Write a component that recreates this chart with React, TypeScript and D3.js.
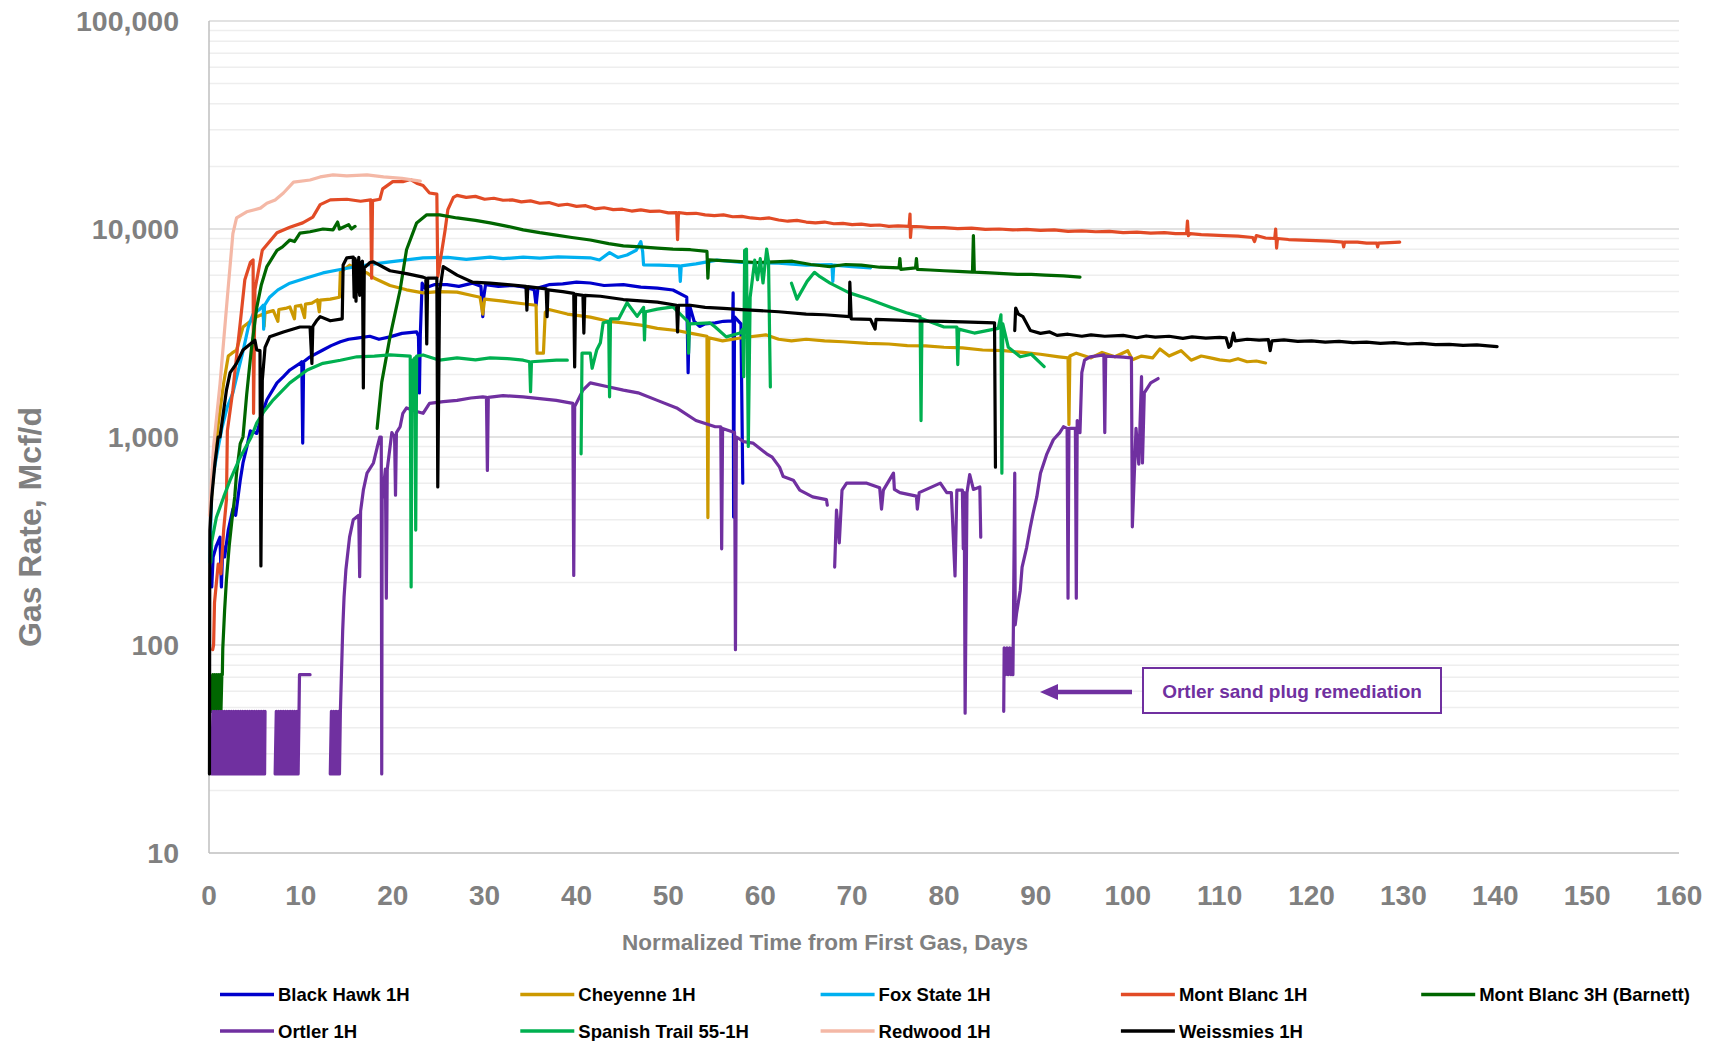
import React, { useEffect } from "react";
import * as d3 from "d3";

type Pt = [number, number | null];

const W = 1723;
const H = 1041;
const FONT = "'Liberation Sans', Arial, sans-serif";
const AXIS_GRAY = "#808080";

const xTickValues = [0, 10, 20, 30, 40, 50, 60, 70, 80, 90, 100, 110, 120, 130, 140, 150, 160];
const yTickValues = [10, 100, 1000, 10000, 100000];

// Daily gas rates, [day, Mcf/d]; null marks a break in the record
const blackHawk: Pt[] = [
  [0.3, 190], [0.45, 265], [0.8, 300], [1.2, 330], [1.35, 190], [1.5, 300], [1.7, 265], [2.1, 357],
  [2.6, 450], [2.9, 420], [3.4, 620], [3.7, 750], [4.1, 890], [4.5, 1070], [5.2, 1040], [5.8, 1300],
  [6.3, 1510], [7.4, 1820], [8.1, 1950], [8.8, 2100], [9.9, 2260], [10.1, 2300], [10.2, 935], [10.3, 2300],
  [11, 2430], [12.4, 2620], [13.3, 2750], [14.3, 2870], [15.2, 2950], [16.1, 2990], [17.5, 3050], [18.5, 2950],
  [19.7, 3030], [21, 3150], [22.6, 3200], [22.8, 3050], [22.9, 1630], [23.0, 3100], [23.2, 5490], [23.5, 5200],
  [24.5, 5400], [25.9, 5400], [27.2, 5300], [28.7, 5490], [29.6, 5300], [29.8, 3790], [29.9, 4700], [30.1, 5400],
  [31.5, 5300], [33, 5350], [34.2, 5270], [35.4, 5100], [35.6, 4300], [35.8, 5200], [37, 5400], [38.5, 5450],
  [40, 5550], [41.5, 5500], [43, 5350], [45.1, 5400], [47, 5250], [48.8, 5200], [50.5, 5090], [52.0, 4700],
  [52.15, 2040], [52.3, 4300], [52.8, 3600], [53.4, 3400], [54.0, 3500], [55.1, 3540], [56, 3600], [57.0, 3620],
  [57.05, 4930], [57.1, 412], [57.2, 3780], [57.9, 3500], [58.1, 600],
];

const cheyenne: Pt[] = [
  [0.2, 450], [0.5, 700], [1.0, 1150], [1.6, 1820], [2.1, 2450], [2.5, 2530], [3.0, 2620], [3.7, 3380],
  [4.5, 3600], [5.2, 3790], [5.9, 3900], [6.0, 3400], [6.1, 3950], [7.0, 4050], [7.5, 3600], [7.6, 4100],
  [8.3, 4150], [8.8, 4220], [9.3, 3700], [9.4, 4250], [10.0, 4300], [10.4, 3750], [10.5, 4350], [11.2, 4400],
  [11.8, 4570], [12.0, 4000], [12.1, 4550], [13.2, 4600], [14.2, 4700], [14.3, 6200], [15.3, 6700], [16.2, 6400],
  [17.2, 6150], [18.0, 5800], [19.7, 5350], [21.5, 5100], [23.3, 4930], [25, 5000], [27, 4970], [28.5, 4800],
  [29.5, 4700], [29.8, 3900], [30.0, 4600], [32, 4500], [34.2, 4370], [35.6, 4300], [35.7, 2530], [36.4, 2530],
  [36.6, 3980], [37, 4100], [39, 3900], [41.5, 3770], [43.5, 3600], [45.1, 3540], [47, 3450], [48.8, 3330],
  [50.9, 3250], [52.5, 3150], [54.2, 3050], [54.3, 410], [54.4, 3000], [55.9, 2900], [58, 3000], [60.6, 3100],
  [62, 2950], [63.4, 2900], [65, 2950], [67, 2900], [69, 2870], [71.7, 2820], [74, 2800], [76, 2750],
  [78, 2740], [80, 2700], [82, 2680], [84.2, 2620], [86.5, 2600], [88.6, 2550], [90.5, 2500], [92.5, 2430],
  [93.5, 2400], [93.6, 1150], [93.7, 2450], [94.4, 2530], [96, 2400], [97.2, 2550], [98.6, 2430],
  [100.0, 2600], [100.5, 2350], [101.5, 2450], [102.7, 2400], [103.5, 2650], [104.5, 2450], [105.8, 2600],
  [106.9, 2340], [108, 2450], [109, 2400], [110, 2350], [111.1, 2320], [112, 2380], [113, 2300], [114, 2320],
  [115, 2270],
];

const foxState: Pt[] = [
  [0.1, 250], [0.3, 600], [0.8, 800], [1.4, 1100], [2.0, 1400], [2.6, 1630], [3.2, 2100], [3.7, 2580],
  [4.3, 3410], [4.8, 3900], [5.5, 4100], [5.9, 4300], [5.95, 3300], [6.05, 4300], [6.6, 4700], [7.5, 5100],
  [8.8, 5490], [10.5, 5800], [12.4, 6150], [14, 6350], [16.1, 6600], [18, 6800], [19.7, 6950], [21.5, 7100],
  [23.3, 7270], [26, 7300], [28, 7150], [30.6, 7330], [32, 7200], [34.2, 7330], [36, 7250], [38, 7350],
  [41.5, 7270], [42.5, 7100], [43.6, 7700], [44.5, 7300], [45.5, 7500], [46.5, 7900], [47.0, 8700], [47.2, 7800],
  [47.3, 6720], [49, 6700], [51.2, 6650], [51.3, 5600], [51.4, 6650], [53, 6800], [55.3, 7080], [58, 6900],
  [62, 6850], [65, 6700], [67.8, 6750], [67.9, 5600], [68.0, 6700], [70, 6600], [72, 6500],
];

const montBlanc1H: Pt[] = [
  [0.4, 95], [0.5, 100], [0.6, 160], [1.0, 245], [1.3, 220], [1.6, 360], [1.9, 500], [2.0, 1070],
  [2.6, 1680], [3.4, 3540], [3.9, 5700], [4.5, 6900], [4.8, 7100], [4.85, 1300], [5.0, 5100], [5.8, 7900],
  [7.4, 9600], [8.8, 10200], [10.2, 10700], [11.3, 11400], [12.1, 13100], [13.2, 13800], [15.0, 13900],
  [16.5, 13600], [17.6, 13800], [17.7, 5800], [17.8, 13700], [18.6, 13900], [18.9, 15600], [20, 16900],
  [21.1, 16900], [21.9, 17300], [22.6, 16600], [23.3, 16200], [24.0, 14900], [24.8, 14700], [24.9, 5900],
  [25.7, 9900], [26.0, 12400], [26.6, 14200], [27, 14500], [28, 14200], [29, 14350], [30, 13900],
  [31, 14050], [32, 13750], [33, 13800], [34, 13500], [35, 13650], [36, 13300], [37, 13400], [38, 13000],
  [39, 13150], [40, 12850], [41, 12950], [42, 12500], [43, 12650], [44, 12400], [45, 12450], [46, 12200],
  [47, 12350], [48, 12150], [49, 12200], [50, 11950], [50.9, 12000], [51, 8900], [51.1, 12000], [52, 11850],
  [53, 11900], [54, 11700], [55, 11600], [56, 11700], [57, 11450], [58, 11500], [59, 11300], [60, 11200],
  [61, 11300], [62, 11050], [63, 10900], [64, 11000], [65, 10800], [66, 10700], [67, 10800], [68, 10600],
  [69, 10650], [70, 10500], [71, 10550], [72, 10400], [73, 10450], [74, 10300], [75, 10350], [76.2, 10300],
  [76.3, 11800], [76.35, 9100], [76.45, 10300], [77.5, 10250], [78.5, 10150], [80, 10150], [81.5, 10050],
  [83, 10100], [84.5, 9950], [86, 10000], [87.5, 9900], [89, 9950], [90.5, 9850], [92, 9900], [93.5, 9750],
  [95, 9800], [96.5, 9700], [98, 9750], [99.5, 9600], [101, 9650], [102.5, 9550], [104, 9600], [105.2, 9500],
  [106.4, 9500], [106.5, 10900], [106.6, 9300], [106.8, 9500], [108, 9400], [109.3, 9350], [110.5, 9300],
  [112, 9250], [113.6, 9100], [113.8, 8700], [114.0, 9300], [115, 9050], [116, 9000], [116.1, 10000],
  [116.2, 8100], [116.3, 9000], [117.5, 8900], [119, 8850], [120.5, 8800], [122, 8750], [123.4, 8650],
  [123.5, 8200], [123.6, 8650], [125, 8650], [126, 8550], [127.1, 8550], [127.2, 8200], [127.3, 8550],
  [128.5, 8600], [129.6, 8650],
];

const montBlanc3H: Pt[] = [
  [0.3, 48], [0.4, 72], [0.5, 48], [0.6, 72], [0.7, 48], [0.8, 72], [0.9, 48], [1.0, 72], [1.1, 48],
  [1.2, 72], [1.3, 48], [1.4, 72], [1.45, 72],
  [1.5, 96], [1.7, 147], [1.9, 206], [2.2, 300], [2.5, 400], [2.8, 515], [3.0, 670], [3.4, 930], [3.7, 1000],
  [4.1, 1600], [4.6, 2620], [5.2, 4200], [5.7, 5400], [6.3, 6600], [7.4, 7900], [8.0, 8200], [8.8, 8850],
  [9.3, 8700], [9.9, 9560], [11, 9700], [12.4, 10000], [13.5, 9900], [14.0, 10800], [14.2, 10000],
  [14.6, 10200], [15.2, 10500], [15.5, 10000], [15.9, 10300],
  [16.0, null],
  [18.3, 1100], [18.8, 1830], [19.7, 3030], [20.8, 5090], [21.5, 7950], [22.6, 10700], [23.7, 11700],
  [25.1, 11700], [27, 11300], [29, 11000], [30.6, 10700], [32.5, 10300], [34.2, 9900], [36, 9600],
  [37.8, 9350], [39.5, 9100], [41.5, 8850], [43.5, 8500], [45.1, 8300], [47, 8200], [48.8, 8100],
  [50.5, 8000], [52.4, 7950], [54.2, 7800], [54.3, 5800], [54.4, 7100], [57, 7000], [59.6, 6900],
  [61.5, 6950], [63.5, 7000], [65.5, 6750], [67.6, 6600], [69.3, 6750], [71, 6700], [73, 6550], [75.1, 6500],
  [75.2, 7200], [75.3, 6400], [76.9, 6500], [77.0, 7200], [77.1, 6400], [78.5, 6350], [80, 6300],
  [81.5, 6250], [83.1, 6200], [83.2, 9300], [83.3, 6200], [85, 6150], [86.5, 6100], [88, 6050],
  [89.5, 6050], [91, 6000], [93, 5950], [94.8, 5870],
];

const ortler: Pt[] = [
  [0.3, 24], [0.425, 48], [0.55, 24], [0.675, 48], [0.8, 24], [0.925, 48], [1.05, 24], [1.175, 48],
  [1.3, 24], [1.425, 48], [1.55, 24], [1.675, 48], [1.8, 24], [1.925, 48], [2.05, 24], [2.175, 48],
  [2.3, 24], [2.425, 48], [2.55, 24], [2.675, 48], [2.8, 24], [2.925, 48], [3.05, 24], [3.175, 48],
  [3.3, 24], [3.425, 48], [3.55, 24], [3.675, 48], [3.8, 24], [3.925, 48], [4.05, 24], [4.175, 48],
  [4.3, 24], [4.425, 48], [4.55, 24], [4.675, 48], [4.8, 24], [4.925, 48], [5.05, 24], [5.175, 48],
  [5.3, 24], [5.425, 48], [5.55, 24], [5.675, 48], [5.8, 24], [5.925, 48], [6.05, 24], [6.1, 48],
  [6.5, null],
  [7.2, 24], [7.325, 48], [7.45, 24], [7.575, 48], [7.7, 24], [7.825, 48], [7.95, 24], [8.075, 48],
  [8.2, 24], [8.325, 48], [8.45, 24], [8.575, 48], [8.7, 24], [8.825, 48], [8.95, 24], [9.075, 48],
  [9.2, 24], [9.325, 48], [9.45, 24], [9.575, 48], [9.7, 24], [9.8, 48], [9.85, 72], [11.0, 72],
  [12, null],
  [13.2, 24], [13.325, 48], [13.45, 24], [13.575, 48], [13.7, 24], [13.825, 48], [13.95, 24], [14.075, 48],
  [14.2, 24], [14.3, 48], [14.55, 117], [14.7, 170],
  [14.9, 230], [15.3, 330], [15.7, 400], [16.3, 420], [16.4, 213], [16.5, 440], [16.8, 555], [17.2, 670],
  [17.9, 750], [18.3, 890], [18.6, 1000], [18.75, 1000], [18.8, 24], [18.85, 500], [19.2, 700], [19.3, 168],
  [19.4, 700], [19.9, 1050], [20.2, 1000], [20.3, 525], [20.4, 1050], [20.8, 1120], [21.1, 1300], [21.5, 1380],
  [22.5, 1330], [23.3, 1300], [24.0, 1450], [25.5, 1480], [27, 1500], [28.5, 1540], [29.8, 1560], [30.2, 1550],
  [30.3, 690], [30.4, 1550], [32, 1580], [34.2, 1560], [36, 1530], [37.8, 1500], [39.6, 1450], [39.7, 216],
  [39.8, 1400], [40.7, 1680], [41.5, 1820], [43.3, 1750], [45.1, 1680], [46.7, 1630], [48.8, 1500],
  [50.9, 1380], [53, 1200], [55.1, 1120], [55.7, 1120], [55.8, 290], [55.9, 1100], [57.2, 1050], [57.3, 95],
  [57.4, 1000], [58.2, 950], [59.2, 935], [60.7, 830], [61.3, 800], [62.1, 716], [62.5, 645], [63.6, 620],
  [64.3, 555], [65.7, 515], [67.2, 500], [67.3, 470],
  [67.7, null],
  [68.1, 237], [68.3, 445], [68.6, 310], [68.9, 555], [69.4, 600], [71.6, 600], [73.0, 570], [73.2, 450],
  [73.4, 555], [74.5, 670], [74.6, 560], [75.2, 540], [77, 520], [77.1, 450], [77.3, 540], [79.6, 600],
  [80.3, 540], [80.8, 540], [81.2, 215], [81.4, 555], [82, 555], [82.1, 290], [82.2, 540], [82.3, 47],
  [82.5, 540], [82.8, 660], [83.2, 560], [83.9, 575], [84.0, 330],
  [85, null],
  [86.5, 48], [86.55, 97], [86.7, 72], [86.85, 97], [87.0, 72], [87.15, 97], [87.3, 72], [87.45, 97],
  [87.5, 72], [87.55, 118], [87.7, 670], [87.75, 125], [87.9, 142], [88.3, 183], [88.5, 237], [89.0, 295],
  [89.4, 370], [89.7, 430], [90.1, 515], [90.5, 670], [91.2, 830], [91.9, 970], [92.6, 1050], [93.0, 1120],
  [93.4, 1100], [93.5, 168], [93.6, 1100], [94.3, 1100], [94.4, 168], [94.5, 1200], [94.8, 1050],
  [95.0, 2040], [95.3, 2340], [95.9, 2430], [97.4, 2480], [97.5, 1050], [97.6, 2450], [99.5, 2420],
  [100.4, 2400], [100.5, 370], [100.9, 1100], [101.2, 740], [101.5, 1950], [101.6, 750], [101.8, 1630],
  [102.5, 1820], [103.3, 1910],
];

const spanishTrail: Pt[] = [
  [0.2, 250], [0.3, 315], [0.8, 410], [1.6, 515], [2.3, 620], [3.4, 800], [4.6, 1000], [5.2, 1170],
  [6.0, 1330], [7.0, 1510], [8.8, 1820], [10.7, 2100], [12.4, 2260], [14.3, 2340], [16.1, 2430], [18, 2450],
  [19.7, 2480], [21.9, 2450], [22.0, 190], [22.1, 2300], [22.4, 2400], [22.5, 357], [22.6, 2450], [23.3, 2480],
  [25.1, 2340], [27, 2400], [29, 2350], [30.6, 2400], [32.5, 2380], [34.2, 2340], [34.9, 2300], [35.0, 1650],
  [35.1, 2300], [37.8, 2340], [39.0, 2340],
  [39.5, null],
  [40.5, 830], [40.6, 2530], [41.5, 2530], [41.7, 2140], [42.2, 2620], [42.6, 2840], [42.9, 3540], [43.5, 3600],
  [43.6, 1560], [43.7, 3700], [44.6, 3700], [45.5, 4420], [46.6, 3800], [47.3, 4200], [47.4, 2930],
  [47.5, 4000], [48.8, 4120], [50.5, 4220], [52.1, 3600], [52.2, 2530], [52.3, 3500], [54.5, 3540],
  [55.1, 3380], [56.3, 3030], [57.8, 3160], [58.1, 3300], [58.2, 1950], [58.3, 7900], [58.5, 8000],
  [58.7, 900], [58.9, 4700], [59.4, 7080], [59.7, 5700], [60.0, 7200], [60.3, 5500], [60.7, 8000],
  [60.9, 7000], [61.1, 1740],
  [62, null],
  [63.4, 5490], [64.0, 4600], [65.1, 5600], [65.9, 6190], [66.5, 5900], [67.6, 5490], [69.7, 4930],
  [71.7, 4620], [74.1, 4220], [75.9, 3960], [77.4, 3790], [77.5, 1200], [77.6, 3700], [80, 3380],
  [81.4, 3380], [81.5, 2230], [81.6, 3300], [83.3, 3160], [85.9, 3330], [86.2, 3870], [86.3, 670],
  [86.4, 3500], [87.0, 2700], [88.3, 2430], [89.5, 2500], [90.9, 2180],
];

const redwood: Pt[] = [
  [0.05, 420], [0.5, 900], [1.2, 1800], [2.0, 4700], [2.6, 9500], [3.0, 11300], [4.1, 12100], [5.6, 12600],
  [6.3, 13300], [7.2, 13800], [8.1, 14900], [9.2, 16800], [11, 17200], [12.1, 17800], [13.5, 18200],
  [15, 18000], [17.2, 18200], [19, 17800], [21, 17500], [23, 17000],
];

const weissmies: Pt[] = [
  [0.05, 24], [0.08, 200], [0.1, 357], [0.3, 515], [0.65, 750], [1.0, 1000], [1.2, 1000], [1.9, 1680],
  [2.3, 2040], [3.0, 2260], [3.7, 2620], [4.5, 2800], [5.0, 2920], [5.2, 2620], [5.55, 2600], [5.65, 240],
  [5.8, 1870], [6.1, 2700], [6.6, 3030], [8.1, 3200], [9.9, 3380], [11.0, 3380], [11.2, 2260], [11.3, 3400],
  [11.7, 3620], [12.1, 3790], [13.2, 3620], [14.5, 3700], [14.6, 6720], [15.0, 7270], [15.7, 7330],
  [15.8, 4700], [15.9, 7200], [16.0, 4500], [16.1, 7000], [16.2, 5000], [16.3, 7300], [16.4, 4800],
  [16.5, 6800], [16.7, 7000], [16.8, 1720], [16.9, 6500], [17.5, 6900], [17.9, 6950], [19.7, 6300],
  [21.5, 6100], [23.3, 5870], [23.6, 5800], [23.7, 2800], [23.8, 5800], [24.8, 5800], [24.9, 575],
  [25.1, 5000], [25.5, 6600], [27, 6000], [28.7, 5550], [30.6, 5490], [32.5, 5400], [34.5, 5300],
  [34.6, 4070], [34.7, 5280], [36.7, 5150], [36.8, 3790], [36.9, 5100], [38.5, 5000], [39.7, 4900],
  [39.8, 2170], [39.9, 4850], [40.7, 4800], [40.8, 3160], [40.9, 4800], [42.6, 4750], [45.1, 4580],
  [48.8, 4450], [50.9, 4300], [51.0, 3200], [51.1, 4300], [52.4, 4300], [54, 4200], [56, 4150], [58, 4100],
  [60, 4050], [62, 4000], [65, 3900], [67, 3870], [69.7, 3790], [69.75, 5550], [69.9, 3700], [72, 3680],
  [72.5, 3300], [72.6, 3680], [75, 3650], [77, 3620], [80, 3600], [82, 3580], [85.5, 3540], [85.6, 716],
  [86.5, null],
  [87.7, 3250], [87.8, 4170], [88.1, 3900], [88.6, 3790], [89.4, 3250], [90.5, 3150], [91.5, 3200],
  [92.3, 3080], [93.5, 3120], [95, 3050], [96, 3100], [97.5, 3050], [99.5, 3080], [101, 3000], [102, 3060],
  [103, 3020], [104.5, 3050], [106, 2980], [107, 3030], [108.5, 2990], [110, 3010], [110.7, 3000],
  [111.0, 2700], [111.2, 2750], [111.5, 3160], [111.7, 2900], [113, 2950], [114.3, 2920], [115.3, 2940],
  [115.5, 2600], [115.7, 2900], [117, 2930], [118.5, 2880], [120, 2900], [121.5, 2860], [123, 2880],
  [124.5, 2840], [126, 2860], [127.5, 2820], [129, 2840], [130.5, 2800], [132, 2820], [133.5, 2780],
  [135, 2790], [136.5, 2760], [138, 2770], [139.2, 2740], [140.2, 2720],
];

const seriesNames = [
  "Black Hawk 1H", "Cheyenne 1H", "Fox State 1H", "Mont Blanc 1H", "Mont Blanc 3H (Barnett)",
  "Ortler 1H", "Spanish Trail 55-1H", "Redwood 1H", "Weissmies 1H",
];
const seriesColors = [
  "#0000CC", "#CC9900", "#00B0F0", "#E24B26", "#006600",
  "#7030A0", "#00B050", "#F4B8A6", "#000000",
];
const seriesData = [blackHawk, cheyenne, foxState, montBlanc1H, montBlanc3H, ortler, spanishTrail, redwood, weissmies];

const annotationText = "Ortler sand plug remediation";

export default function App() {
  useEffect(() => {
    document.body.style.margin = "0";
    document.body.style.overflow = "hidden";
  }, []);

  const left = 209, right = 1679, top = 21, bottom = 853;
  const x = d3.scaleLinear().domain([0, 160]).range([left, right]);
  const y = d3.scaleLog().domain([10, 100000]).range([bottom, top]);
  const line = d3
    .line<Pt>()
    .defined((d) => d[1] !== null)
    .x((d) => x(d[0]))
    .y((d) => y(d[1] as number));
  const fmt = d3.format(",");
  const gridValues = y.ticks().filter((v) => v > 10);
  const isDecade = (v: number) => Math.abs(Math.log10(v) - Math.round(Math.log10(v))) < 1e-9;

  const purple = "#7030A0";

  return (
    <svg width={W} height={H} style={{ display: "block" }} fontFamily={FONT}>
      <rect width={W} height={H} fill="#ffffff" />
      {/* gridlines */}
      {gridValues.filter((v) => !isDecade(v)).map((v) => (
        <line key={"g" + v} x1={left} x2={right} y1={y(v)} y2={y(v)} stroke="#eeeeee" strokeWidth={1.5} />
      ))}
      {gridValues.filter((v) => isDecade(v)).map((v) => (
        <line key={"G" + v} x1={left} x2={right} y1={y(v)} y2={y(v)} stroke="#d9d9d9" strokeWidth={1.5} />
      ))}
      {/* axes */}
      <line x1={left} x2={left} y1={top} y2={bottom} stroke="#bfbfbf" strokeWidth={1.5} />
      <line x1={left} x2={right} y1={bottom} y2={bottom} stroke="#bfbfbf" strokeWidth={1.5} />

      {yTickValues.map((v) => (
        <text key={"yt" + v} x={179} y={y(v)} dy="0.36em" textAnchor="end" fontSize={28.5}
          fontWeight="bold" fill={AXIS_GRAY}>{fmt(v)}</text>
      ))}
      {xTickValues.map((v) => (
        <text key={"xt" + v} x={x(v)} y={895} dy="0.36em" textAnchor="middle" fontSize={28}
          fontWeight="bold" fill={AXIS_GRAY}>{v}</text>
      ))}
      <text transform="translate(29,527) rotate(-90)" dy="0.36em" textAnchor="middle" fontSize={32}
        fontWeight="bold" fill={AXIS_GRAY}>Gas Rate, Mcf/d</text>
      <text x={825} y={942} dy="0.36em" textAnchor="middle" fontSize={22.5} fontWeight="bold"
        fill={AXIS_GRAY}>Normalized Time from First Gas, Days</text>

      {/* series */}
      <g fill="none" strokeLinejoin="round" strokeLinecap="round">
        {seriesData.map((data, i) => (
          <path key={"s" + i} d={line(data) || ""} stroke={seriesColors[i]} strokeWidth={3.2} />
        ))}
      </g>

      {/* annotation */}
      <line x1={1054} x2={1132} y1={692} y2={692} stroke={purple} strokeWidth={4.5} />
      <polygon points="1040,692 1058,684 1058,700" fill={purple} />
      <rect x={1143} y={668} width={298} height={45} fill="#ffffff" stroke={purple} strokeWidth={2} />
      <text x={1292} y={691} dy="0.36em" textAnchor="middle" fontSize={19} fontWeight="bold"
        fill={purple}>{annotationText}</text>

      {/* legend */}
      {seriesNames.map((name, i) => {
        const col = i % 5;
        const row = Math.floor(i / 5);
        const lx = 220 + col * 300.3;
        const ly = 994.5 + row * 36.5;
        return (
          <g key={"lg" + i}>
            <line x1={lx} x2={lx + 54} y1={ly} y2={ly} stroke={seriesColors[i]} strokeWidth={3.5} />
            <text x={lx + 58} y={ly} dy="0.36em" fontSize={18.5} fontWeight="bold" fill="#000000">{name}</text>
          </g>
        );
      })}
    </svg>
  );
}
